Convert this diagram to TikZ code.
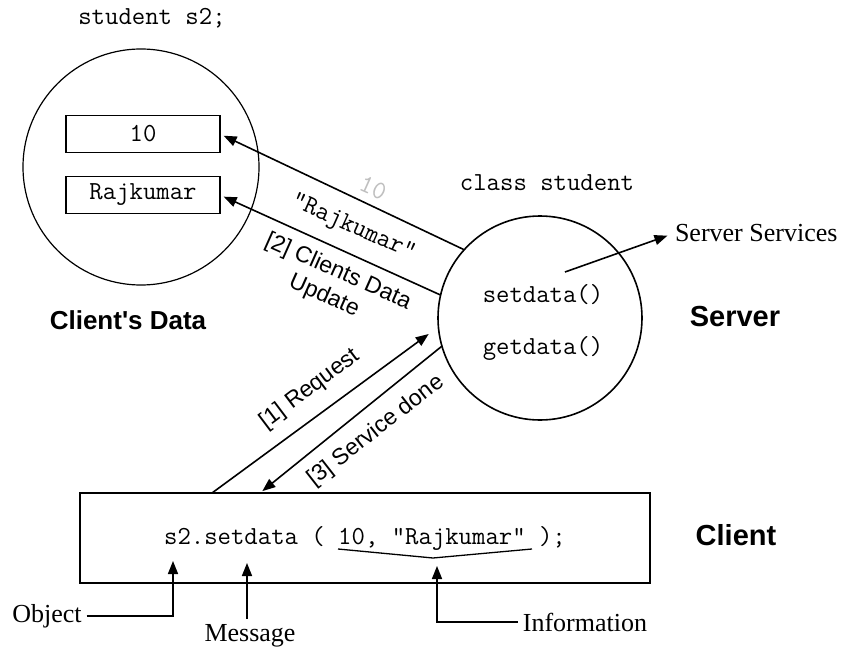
\documentclass[tikz,border=0pt]{standalone}
\usepackage{fontspec}
\newfontfamily\lsans{Liberation Sans}
\newfontfamily\lserif{Liberation Serif}
\usetikzlibrary{arrows.meta}

\tikzset{
  code/.style={font=\fontsize{26}{30}\selectfont\ttfamily},
  heading/.style={font=\fontsize{29}{34}\selectfont\lsans\bfseries},
  caption/.style={font=\fontsize{26}{30}\selectfont\lsans\bfseries},
  msglabel/.style={font=\fontsize{23}{27}\selectfont\lsans},
  note/.style={font=\fontsize{26}{30}\selectfont\lserif},
  arr/.style={-{Triangle[length=13pt,width=10pt]}, line width=1.6pt},
  databox/.style={draw, line width=1.2pt, minimum width=154pt, minimum height=37pt, code},
}

\begin{document}
\begin{tikzpicture}[x=1pt,y=-1pt, every node/.style={inner sep=0pt, outer sep=0pt}]
\useasboundingbox (0,0) rectangle (841,650);

% the object s2 and its data members
\node[code] (decl) at (152,18) {student s2;};
\node[draw, circle, line width=1.2pt, minimum size=236pt] (cdata) at (141,167) {};
\node[databox] (b10) at (143,134) {10};
\node[databox] (braj) at (143,195) {Rajkumar};
\node[caption] (cdl) at (128,320) {Client's Data};

% the server class
\node[code] (cls) at (547,183) {class student};
\node[draw, circle, line width=1.6pt, minimum size=204pt] (srv) at (540,318) {};
\node[code] (set) at (543,295) {setdata()};
\node[code] (get) at (543,348) {getdata()};
\node[heading] (srvl) at (735,317) {Server};
\node[note, anchor=west] (svcl) at (675,233) {Server Services};
\coordinate (svc) at (565,272);
\draw[arr, shorten >=8pt] (svc) -- (svcl.west);

% data written back into the object
\draw[arr, shorten >=4pt] (srv.138) -- (b10.east);
\draw[arr, shorten >=4pt] (srv.167) -- (braj.east);
\path (373,188) node[code, rotate=-24, text=gray!50] (lten) {10};
\path (353,228) node[code, rotate=-24] (lraj) {"Rajkumar"};
\path (338,272) node[msglabel, rotate=-24] (lupd1) {[2] Clients Data};
\path (324,296) node[msglabel, rotate=-24] (lupd2) {Update};

% the client call
\node[draw, line width=1.8pt, minimum width=570pt, minimum height=90pt, code] (cl) at (365,538) {s2.setdata ( 10, "Rajkumar" );};
\node[heading] (cll) at (736,535) {Client};

% request and reply
\draw[arr, shorten >=12pt] ([xshift=-153pt]cl.north) -- (srv.185);
\draw[arr, shorten >=3pt] (srv.196) -- ([xshift=-105pt]cl.north);
\path (310,389) node[msglabel, rotate=37] (lreq) {[1] Request};
\path (376,431) node[msglabel, rotate=38] (ldone) {[3] Service done};

% brace over the arguments
\coordinate (br1) at (338,549);
\coordinate (brm) at (433,558);
\coordinate (br2) at (532,549);
\draw[line width=1.3pt, line join=miter] (br1) -- (brm) -- (br2);

% parts of the message
\node[note] (obj) at (47,616) {Object};
\coordinate (objtip) at (173,561);
\draw[arr] ([xshift=5pt]obj.east) -| (objtip);

\node[note] (msg) at (250,636) {Message};
\coordinate (msgtip) at (247,563);
\draw[arr, shorten <=6pt] (msgtip |- msg.north) -- (msgtip);

\node[note] (info) at (585,622) {Information};
\coordinate (infotip) at (437,566);
\draw[arr] ([xshift=-5pt]info.west) -| (infotip);
\end{tikzpicture}
\end{document}
